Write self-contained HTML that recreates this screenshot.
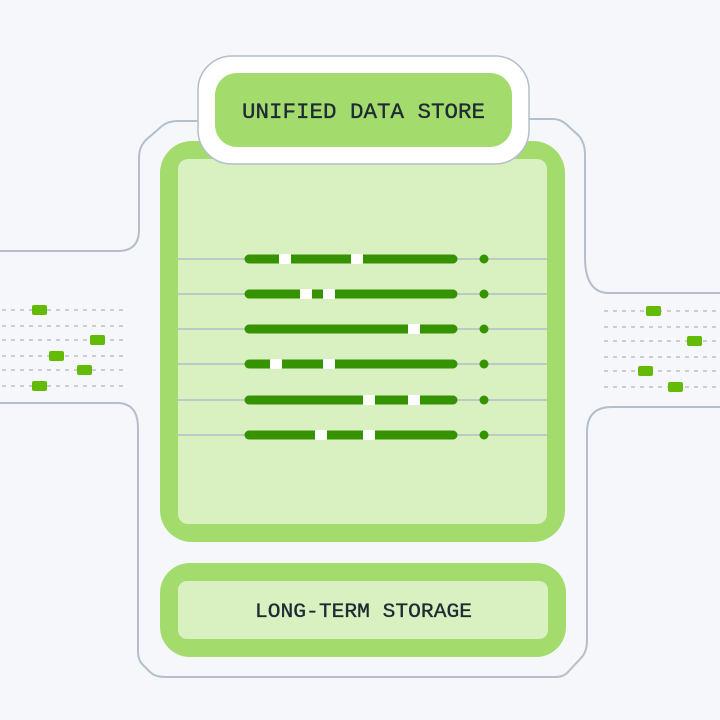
<!DOCTYPE html>
<html><head><meta charset="utf-8"><style>
html,body{margin:0;padding:0;background:#f5f7fa;}
svg{display:block}
text{font-family:"Liberation Mono","DejaVu Sans Mono",monospace;fill:#1f2a33;stroke:#1f2a33;stroke-width:0.35;}
</style></head><body>
<svg width="720" height="720" viewBox="0 0 720 720" xmlns="http://www.w3.org/2000/svg">
<rect width="720" height="720" fill="#f5f7fa"/>
<g fill="none" stroke="#b4bfcb" stroke-width="2">
<path d="M0 251 H118 Q139 251 139 230 V158 Q139 146 147 139 L162 126 Q168 121 178 121 H200"/>
<path d="M526 119 H553 Q560 119 566 124 L579 136 Q585 143 585 155 V257 Q585 293 609 293 H720"/>
<path d="M0 403 H117 Q138 403 138 428 V652 Q138 660 143 665 L150 672 Q155 677 165 677 H556 Q564 677 569 671 L581 658 Q587 652 587 640 V432 Q587 407 612 407 H720"/>
</g>
<g stroke="#b8c0ca" stroke-width="1.5" stroke-dasharray="4 5">
<line x1="2" y1="310" x2="126" y2="310"/><line x1="2" y1="326" x2="126" y2="326"/>
<line x1="2" y1="340" x2="126" y2="340"/><line x1="2" y1="356" x2="126" y2="356"/>
<line x1="2" y1="370" x2="126" y2="370"/><line x1="2" y1="386" x2="126" y2="386"/>
<line x1="604" y1="311" x2="720" y2="311"/><line x1="604" y1="327" x2="720" y2="327"/>
<line x1="604" y1="341" x2="720" y2="341"/><line x1="604" y1="357" x2="720" y2="357"/>
<line x1="604" y1="371" x2="720" y2="371"/><line x1="604" y1="387" x2="720" y2="387"/>
</g>
<g fill="#63bb06">
<rect x="32" y="305" width="15" height="10" rx="2"/><rect x="90" y="335" width="15" height="10" rx="2"/>
<rect x="49" y="351" width="15" height="10" rx="2"/><rect x="77" y="365" width="15" height="10" rx="2"/>
<rect x="32" y="381" width="15" height="10" rx="2"/>
<rect x="646" y="306" width="15" height="10" rx="2"/><rect x="687" y="336" width="15" height="10" rx="2"/>
<rect x="638" y="366" width="15" height="10" rx="2"/><rect x="668" y="382" width="15" height="10" rx="2"/>
</g>
<rect x="160" y="141" width="405" height="401" rx="32" fill="#a3dc6c"/>
<rect x="178" y="159" width="369" height="365" rx="10" fill="#d9f0c1"/>
<g stroke="#b4bcc8" stroke-width="1.5">
<line x1="178" y1="259" x2="547" y2="259"/><line x1="178" y1="294" x2="547" y2="294"/>
<line x1="178" y1="329" x2="547" y2="329"/><line x1="178" y1="364" x2="547" y2="364"/>
<line x1="178" y1="400" x2="547" y2="400"/><line x1="178" y1="435" x2="547" y2="435"/>
</g>
<g stroke="#359200" stroke-width="9" stroke-linecap="round">
<line x1="249" y1="259" x2="453" y2="259"/><line x1="249" y1="294" x2="453" y2="294"/>
<line x1="249" y1="329" x2="453" y2="329"/><line x1="249" y1="364" x2="453" y2="364"/>
<line x1="249" y1="400" x2="453" y2="400"/><line x1="249" y1="435" x2="453" y2="435"/>
</g>
<g fill="#359200">
<circle cx="484" cy="259" r="4.5"/><circle cx="484" cy="294" r="4.5"/><circle cx="484" cy="329" r="4.5"/>
<circle cx="484" cy="364" r="4.5"/><circle cx="484" cy="400" r="4.5"/><circle cx="484" cy="435" r="4.5"/>
</g>
<g fill="#fff">
<rect x="279" y="254" width="12" height="10" rx="1"/><rect x="351" y="254" width="12" height="10" rx="1"/>
<rect x="300" y="289" width="12" height="10" rx="1"/><rect x="323" y="289" width="12" height="10" rx="1"/>
<rect x="408" y="324" width="12" height="10" rx="1"/>
<rect x="270" y="359" width="12" height="10" rx="1"/><rect x="323" y="359" width="12" height="10" rx="1"/>
<rect x="363" y="395" width="12" height="10" rx="1"/><rect x="408" y="395" width="12" height="10" rx="1"/>
<rect x="315" y="430" width="12" height="10" rx="1"/><rect x="363" y="430" width="12" height="10" rx="1"/>
</g>
<rect x="198" y="56" width="331" height="108" rx="34" fill="#fff" stroke="#b4bfcb" stroke-width="1.5"/>
<rect x="215" y="73" width="297" height="74" rx="22" fill="#a3dc6c"/>
<text x="242" y="118" font-size="22" textLength="243" lengthAdjust="spacingAndGlyphs">UNIFIED DATA STORE</text>
<rect x="160" y="563" width="406" height="94" rx="30" fill="#a3dc6c"/>
<rect x="178" y="581" width="370" height="58" rx="9" fill="#d9f0c1"/>
<text x="255" y="617" font-size="20" textLength="217" lengthAdjust="spacingAndGlyphs">LONG-TERM STORAGE</text>
</svg>
</body></html>
